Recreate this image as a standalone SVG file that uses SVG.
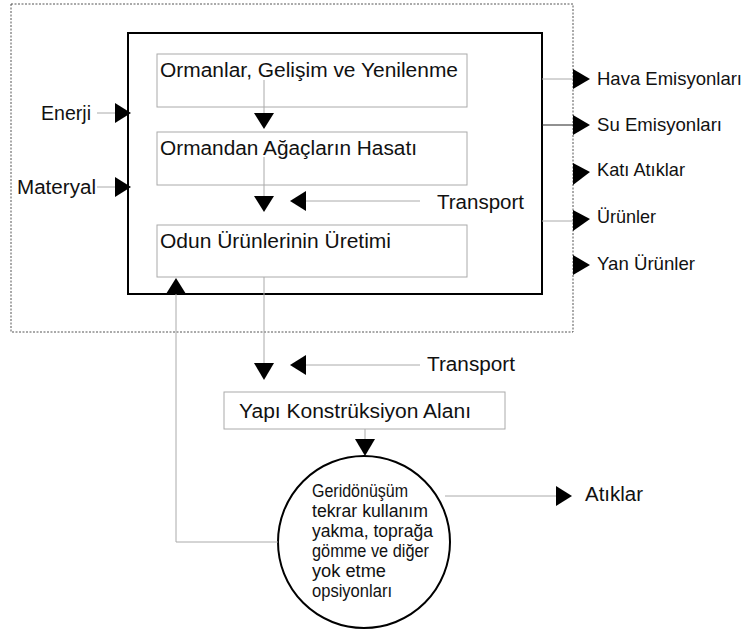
<svg xmlns="http://www.w3.org/2000/svg" width="745" height="632" viewBox="0 0 745 632">
  <style>
    text { font-family: "Liberation Sans", Arial, sans-serif; fill: #111; }
    .lbl { font-size: 20px; }
    .out { font-size: 18.5px; }
    .small { font-size: 17.5px; }
    .box { fill: #fff; stroke: #aaa; stroke-width: 1; }
    .line { fill: none; stroke: #aaa; stroke-width: 1; }
    .dark { fill: none; stroke: #222; stroke-width: 1; }
    .tri { fill: #000; }
  </style>
  <rect width="745" height="632" fill="#fff"/>

  <!-- system boundary -->
  <rect id="boundary" x="11" y="4" width="562" height="328" fill="none" stroke="#555" stroke-width="1" stroke-dasharray="2,1.5"/>

  <!-- production stage frame -->
  <g id="production">
    <rect x="128" y="33" width="414" height="261" fill="none" stroke="#000" stroke-width="2"/>
  </g>

  <g id="forest">
    <rect class="box" x="157" y="54" width="310" height="53"/>
    <text class="lbl" x="160" y="77" textLength="298" lengthAdjust="spacingAndGlyphs">Ormanlar, Gelişim ve Yenilenme</text>
  </g>
  <g id="harvest">
    <rect class="box" x="157" y="132" width="310" height="53"/>
    <text class="lbl" x="160" y="155" textLength="257" lengthAdjust="spacingAndGlyphs">Ormandan Ağaçların Hasatı</text>
  </g>
  <g id="manufacture">
    <rect class="box" x="157" y="225" width="310" height="52"/>
    <text class="lbl" x="160" y="248" textLength="231" lengthAdjust="spacingAndGlyphs">Odun Ürünlerinin Üretimi</text>
  </g>
  <g id="site">
    <rect class="box" x="224" y="392" width="281" height="37"/>
    <text class="lbl" x="239" y="418" textLength="232" lengthAdjust="spacingAndGlyphs">Yapı Konstrüksiyon Alanı</text>
  </g>
  <g id="endoflife">
    <circle cx="364" cy="542" r="86" fill="#fff" stroke="#000" stroke-width="2"/>
    <text class="small" x="312" y="497" textLength="96" lengthAdjust="spacingAndGlyphs">Geridönüşüm</text>
    <text class="small" x="312" y="517" textLength="116" lengthAdjust="spacingAndGlyphs">tekrar kullanım</text>
    <text class="small" x="312" y="537" textLength="121" lengthAdjust="spacingAndGlyphs">yakma, toprağa</text>
    <text class="small" x="312" y="557" textLength="117" lengthAdjust="spacingAndGlyphs">gömme ve diğer</text>
    <text class="small" x="312" y="577" textLength="74" lengthAdjust="spacingAndGlyphs">yok etme</text>
    <text class="small" x="312" y="597" textLength="80" lengthAdjust="spacingAndGlyphs">opsiyonları</text>
  </g>

  <!-- inputs / outputs labels -->
  <g id="labels">
    <text class="lbl" x="41" y="120" textLength="50" lengthAdjust="spacingAndGlyphs">Enerji</text>
    <text class="lbl" x="17" y="194" textLength="79" lengthAdjust="spacingAndGlyphs">Materyal</text>
    <text class="lbl" x="437" y="209" textLength="87" lengthAdjust="spacingAndGlyphs">Transport</text>
    <text class="lbl" x="427" y="371" textLength="88" lengthAdjust="spacingAndGlyphs">Transport</text>
    <text class="out" x="597" y="85" textLength="145" lengthAdjust="spacingAndGlyphs">Hava Emisyonları</text>
    <text class="out" x="597" y="131" textLength="125" lengthAdjust="spacingAndGlyphs">Su Emisyonları</text>
    <text class="out" x="597" y="176" textLength="88" lengthAdjust="spacingAndGlyphs">Katı Atıklar</text>
    <text class="out" x="597" y="223" textLength="59" lengthAdjust="spacingAndGlyphs">Ürünler</text>
    <text class="out" x="597" y="270" textLength="98" lengthAdjust="spacingAndGlyphs">Yan Ürünler</text>
    <text class="lbl" x="585" y="501" textLength="58" lengthAdjust="spacingAndGlyphs">Atıklar</text>
  </g>

  <!-- connectors -->
  <g id="connectors">
    <!-- inputs -->
    <line class="line" x1="97" y1="113" x2="115" y2="113"/>
    <polygon class="tri" points="115,103 131,113 115,123"/>
    <line class="line" x1="97" y1="187" x2="115" y2="187"/>
    <polygon class="tri" points="115,177 131,187 115,197"/>

    <!-- forest -> harvest -->
    <line class="line" x1="264" y1="80" x2="264" y2="113"/>
    <polygon class="tri" points="254,113 274,113 264,129"/>

    <!-- harvest -> manufacture -->
    <line class="line" x1="264" y1="157" x2="264" y2="196"/>
    <polygon class="tri" points="254,196 274,196 264,212"/>

    <!-- transport into production -->
    <line class="line" x1="306" y1="201" x2="420" y2="201"/>
    <polygon class="tri" points="306,191 306,211 290,201"/>

    <!-- manufacture -> site -->
    <line class="line" x1="264" y1="277" x2="264" y2="363"/>
    <polygon class="tri" points="254,363 274,363 264,380"/>
    <line class="line" x1="306" y1="365" x2="420" y2="365"/>
    <polygon class="tri" points="306,355 306,375 290,365"/>

    <!-- site -> end of life -->
    <line class="line" x1="365" y1="429" x2="365" y2="439"/>
    <polygon class="tri" points="355,439 375,439 365,456"/>

    <!-- recycling loop back to manufacture -->
    <polyline class="line" points="278,542 176,542 176,294"/>
    <polygon class="tri" points="166,294 186,294 176,278"/>

    <!-- waste -->
    <line class="line" x1="445" y1="496" x2="556" y2="496"/>
    <polygon class="tri" points="556,486 572,496 556,506"/>

    <!-- outputs -->
    <line class="line" x1="542" y1="79" x2="573" y2="79"/>
    <polygon class="tri" points="573,69 590,79 573,89"/>
    <line class="dark" x1="542" y1="125" x2="573" y2="125"/>
    <polygon class="tri" points="573,115 590,125 573,135"/>
    <polygon class="tri" points="573,163 590,172 573,185"/>
    <line class="line" x1="542" y1="221" x2="573" y2="221"/>
    <polygon class="tri" points="573,210 590,219 573,231"/>
    <polygon class="tri" points="573,255 590,265 573,275"/>
  </g>
</svg>
